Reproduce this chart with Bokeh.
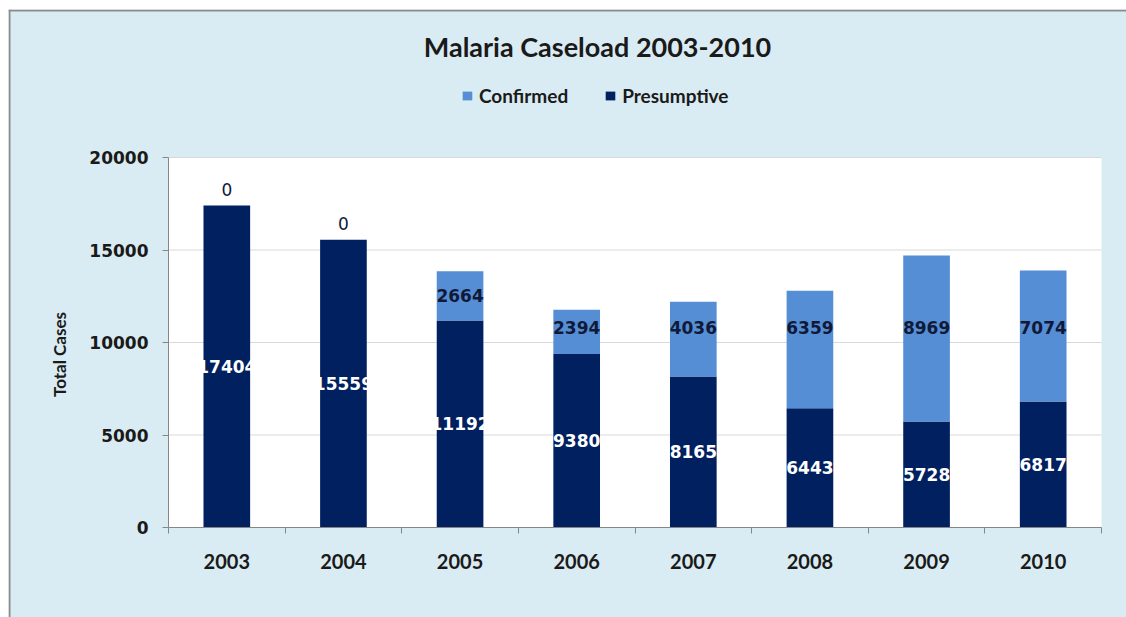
import numpy as np
from bokeh.plotting import figure
from bokeh.models import (ColumnDataSource, LabelSet, Label, Legend, LegendItem,
                          FixedTicker, Range1d, Span)
from bokeh.core.properties import value
from bokeh.embed import file_html
from bokeh.resources import INLINE

# ---- data ----
years = ["2003", "2004", "2005", "2006", "2007", "2008", "2009", "2010"]
presumptive = [17404, 15559, 11192, 9380, 8165, 6443, 5728, 6817]
confirmed = [0, 0, 2664, 2394, 4036, 6359, 8969, 7074]
y_ticks = [0, 5000, 10000, 15000, 20000]
series_names = ["Confirmed", "Presumptive"]
title_text = "Malaria Caseload 2003-2010"
y_axis_title = "Total Cases"

# ---- styles ----
BG = "#DAECF3"
C_CONF = "#558ED5"
C_PRES = "#002060"
AXIS = "#868686"
GRID = "#D9D9D9"
TXT = "#1A1A1A"
LBL_DARK = "#101A38"
BORDER = "#8C8C8C"

# ---- layout (page pixels) ----
FIG_L, FIG_T = 8, 9              # page offset of the chart panel
FIG_W, FIG_H = 1126 - FIG_L, 617 - FIG_T
PA_L, PA_R, PA_T, PA_B = 168, 1101, 157, 527   # plot-area box on the page

xs = np.arange(len(years))
x_lo, x_hi = -0.5, len(years) - 0.5
y_lo, y_hi = 0, max(y_ticks)
ppx = (PA_R - PA_L) / (x_hi - x_lo)
ppy = (PA_B - PA_T) / (y_hi - y_lo)
x_range = Range1d(x_lo - (PA_L - FIG_L) / ppx, x_hi + (FIG_L + FIG_W - PA_R) / ppx)
y_range = Range1d(y_lo - (FIG_T + FIG_H - PA_B) / ppy, y_hi + (PA_T - FIG_T) / ppy)


def sx(px):
    return px - FIG_L


def sy(py):
    return FIG_T + FIG_H - py


def dx(px):
    return x_lo + (px - PA_L) / ppx


def dy(py):
    return y_lo + (PA_B - py) / ppy


pres = np.array(presumptive, dtype=float)
conf = np.array(confirmed, dtype=float)
total = pres + conf
src = ColumnDataSource(dict(x=xs, pres=pres, conf=conf, total=total))

p = figure(width=FIG_W, height=FIG_H, title=None,
           x_range=x_range, y_range=y_range,
           output_backend="svg", toolbar_location=None, min_border=0)
p.margin = (FIG_T, 0, 0, FIG_L)
p.styles = {"border": "none", "outline": "none", "box-shadow": "none"}
p.border_fill_color = BG
p.background_fill_color = BG
p.outline_line_color = None
p.xgrid.visible = False
p.ygrid.visible = False

# panel border (left and top edges)
p.add_layout(Span(location=dx(FIG_L + 1), dimension="height",
                  line_color=BORDER, line_width=2))
p.add_layout(Span(location=dy(FIG_T + 1), dimension="width",
                  line_color=BORDER, line_width=2))

# white plot area and gridlines
p.quad(left=[x_lo], right=[x_hi], bottom=[y_lo], top=[y_hi],
       fill_color="white", line_color=None, level="image")
p.segment(x0=[x_lo] * len(y_ticks), x1=[x_hi] * len(y_ticks), y0=y_ticks, y1=y_ticks,
          line_color=GRID, line_width=1, level="underlay")

r_pres = p.vbar(x="x", bottom=0, top="pres", width=0.4, source=src,
                fill_color=C_PRES, line_color=None)
r_conf = p.vbar(x="x", bottom="pres", top="total", width=0.4, source=src,
                fill_color=C_CONF, line_color=None)

# axes (fixed inside the canvas)
xa = p.xaxis[0]
xa.fixed_location = y_lo
xa.bounds = (x_lo, x_hi)
xa.ticker = FixedTicker(ticks=list(xs), minor_ticks=list(np.arange(x_lo, x_hi + 0.01, 1.0)))
xa.major_label_overrides = {int(i): y for i, y in zip(xs, years)}
xa.major_tick_line_color = None
xa.major_tick_out = 0
xa.minor_tick_line_color = AXIS
xa.minor_tick_out = 6
xa.minor_tick_in = 0
xa.axis_line_color = AXIS
xa.major_label_text_font = "Lato"
xa.major_label_text_font_style = "bold"
xa.major_label_text_font_size = "20px"
xa.major_label_text_color = TXT
xa.major_label_standoff = 20

ya = p.yaxis[0]
ya.fixed_location = x_lo
ya.bounds = (y_lo, y_hi)
ya.ticker = FixedTicker(ticks=y_ticks)
ya.major_tick_out = 6
ya.major_tick_in = 0
ya.major_tick_line_color = AXIS
ya.minor_tick_line_color = None
ya.axis_line_color = AXIS
ya.major_label_text_font = "DejaVu Sans"
ya.major_label_text_font_style = "bold"
ya.major_label_text_font_size = "17px"
ya.major_label_text_color = TXT
ya.major_label_standoff = 14

# y axis title
p.add_layout(Label(x=sx(59), y=sy(354), x_units="screen", y_units="screen",
                   text=y_axis_title, angle=np.pi / 2,
                   text_align="center", text_baseline="middle",
                   text_font="Lato", text_font_style="bold",
                   text_font_size="17px", text_color=TXT))

# data labels
pres_lbl = ColumnDataSource(dict(x=xs, y=pres / 2, t=[str(v) for v in presumptive]))
p.add_layout(LabelSet(x="x", y="y", text="t", source=pres_lbl,
                      text_align="center", text_baseline="middle",
                      text_color="white", text_font=value("DejaVu Sans"),
                      text_font_style="bold", text_font_size="17px"))

nz = conf > 0
conf_y = np.maximum(pres + conf / 2, 10800)
conf_lbl = ColumnDataSource(dict(x=xs[nz], y=conf_y[nz],
                                 t=[str(int(v)) for v in conf[nz]]))
p.add_layout(LabelSet(x="x", y="y", text="t", source=conf_lbl,
                      text_align="center", text_baseline="middle",
                      text_color=LBL_DARK, text_font=value("DejaVu Sans"),
                      text_font_style="bold", text_font_size="17px"))

zero_lbl = ColumnDataSource(dict(x=xs[~nz], y=total[~nz],
                                 t=[str(int(v)) for v in conf[~nz]]))
p.add_layout(LabelSet(x="x", y="y", text="t", source=zero_lbl,
                      text_align="center", text_baseline="middle", y_offset=16,
                      text_color=LBL_DARK, text_font=value("DejaVu Sans"),
                      text_font_size="17px"))

# title
p.add_layout(Label(x=sx(597), y=sy(46), x_units="screen", y_units="screen",
                   text=title_text, text_align="center", text_baseline="middle",
                   text_font="Lato", text_font_style="bold",
                   text_font_size="27px", text_color=TXT))

# legend
legend = Legend(items=[LegendItem(label=series_names[0], renderers=[r_conf]),
                       LegendItem(label=series_names[1], renderers=[r_pres])],
                orientation="horizontal", location=(sx(461), sy(107)),
                background_fill_alpha=0, border_line_color=None,
                label_text_font="Lato", label_text_font_style="bold",
                label_text_font_size="19px", label_text_color=TXT,
                glyph_width=12, glyph_height=11, label_standoff=6,
                spacing=36, padding=0, margin=0)
p.add_layout(legend)

open("out.html", "w").write(file_html(p, INLINE))
